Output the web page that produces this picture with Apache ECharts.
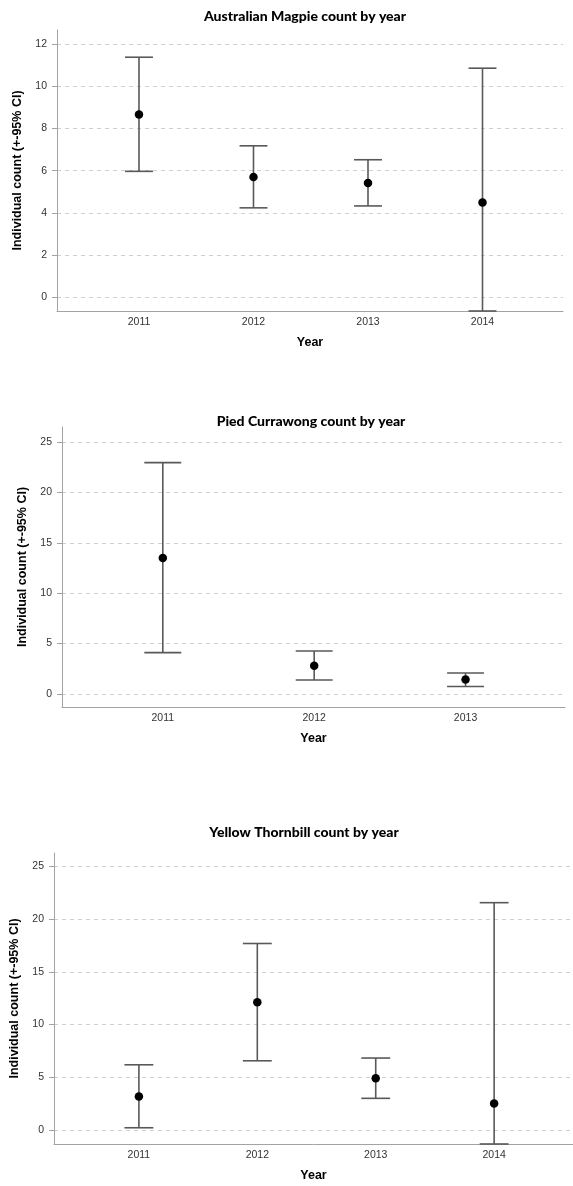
<!DOCTYPE html>
<html><head><meta charset="utf-8">
<script src="https://cdn.jsdelivr.net/npm/echarts@6/dist/echarts.min.js"></script>
<style>html,body{margin:0;padding:0;background:#fff}#c{width:573px;height:1186px}</style>
</head><body><div id="c"></div>
<script>
// ---- data ----
const titles = ['Australian Magpie count by year', 'Pied Currawong count by year', 'Yellow Thornbill count by year'];
const xLabel = 'Year';
const yLabel = 'Individual count (+-95% CI)';

const years1 = [2011, 2012, 2013, 2014];
const mean1  = [8.67, 5.70, 5.42, 4.49];
const lower1 = [5.97, 4.24, 4.33, -0.65];
const upper1 = [11.38, 7.18, 6.52, 10.86];

const years2 = [2011, 2012, 2013];
const mean2  = [13.5, 2.8, 1.42];
const lower2 = [4.1, 1.38, 0.74];
const upper2 = [22.95, 4.26, 2.08];

const years3 = [2011, 2012, 2013, 2014];
const mean3  = [3.18, 12.1, 4.9, 2.5];
const lower3 = [0.21, 6.56, 3.0, -1.33];
const upper3 = [6.18, 17.68, 6.82, 21.55];

const yTicks1 = [0, 2, 4, 6, 8, 10, 12];
const yTicks2 = [0, 5, 10, 15, 20, 25];
const yTicks3 = [0, 5, 10, 15, 20, 25];

// ---- layout ----
const panels = [
  {years: years1, mean: mean1, lower: lower1, upper: upper1, ticks: yTicks1,
   grid: {left: 57, right: 10, top: 30, height: 281}, xMin: 2010.284, xMax: 2014.703, yMin: -0.65, yMax: 12.67,
   titleTop: 4, titleX: 300, yNameGap: 30},
  {years: years2, mean: mean2, lower: lower2, upper: upper2, ticks: yTicks2,
   grid: {left: 62, right: 8, top: 427, height: 280}, xMin: 2010.334, xMax: 2013.657, yMin: -1.3, yMax: 26.49,
   titleTop: 409, titleX: 306, yNameGap: 27},
  {years: years3, mean: mean3, lower: lower3, upper: upper3, ticks: yTicks3,
   grid: {left: 54, right: 0, top: 853, height: 291}, xMin: 2010.283, xMax: 2014.666, yMin: -1.33, yMax: 26.26,
   titleTop: 820, titleX: 299, yNameGap: 28}
];

const axisGray = '#a3a3a3';
const barGray = '#595959';
const tickFont = 'Liberation Sans, Arial, sans-serif';

function errRender(params, api) {
  const x = api.value(0), lo = api.value(1), hi = api.value(2);
  const pLo = api.coord([x, lo]), pHi = api.coord([x, hi]);
  const half = api.size([1, 0])[0] * 0.122;
  const style = {stroke: barGray, lineWidth: 1.6, fill: null};
  return {type: 'group', children: [
    {type: 'line', shape: {x1: pHi[0], y1: pHi[1], x2: pLo[0], y2: pLo[1]}, style: style},
    {type: 'line', shape: {x1: pHi[0] - half, y1: pHi[1], x2: pHi[0] + half, y2: pHi[1]}, style: style},
    {type: 'line', shape: {x1: pLo[0] - half, y1: pLo[1], x2: pLo[0] + half, y2: pLo[1]}, style: style}
  ]};
}

const option = {animation: false, backgroundColor: '#fff', title: [], grid: [], xAxis: [], yAxis: [], series: []};

panels.forEach((p, i) => {
  option.title.push({
    text: titles[i], left: p.titleX, top: p.titleTop, textAlign: 'center',
    textStyle: {fontFamily: 'Lato, sans-serif', fontWeight: 900, fontSize: 14, color: '#000'}
  });
  option.grid.push(Object.assign({containLabel: false}, p.grid));
  option.xAxis.push({
    type: 'value', gridIndex: i, min: p.xMin, max: p.xMax,
    name: xLabel, nameLocation: 'middle', nameGap: 25,
    nameTextStyle: {fontFamily: tickFont, fontWeight: 'bold', fontSize: 12.5, color: '#000'},
    axisLine: {show: true, onZero: false, lineStyle: {color: axisGray, width: 1}},
    axisTick: {show: false},
    splitLine: {show: false},
    axisLabel: {customValues: p.years, formatter: v => String(v), margin: 6,
      fontFamily: tickFont, fontSize: 10.5, color: '#333'}
  });
  option.yAxis.push({
    type: 'value', gridIndex: i, min: p.yMin, max: p.yMax,
    name: yLabel, nameLocation: 'middle', nameGap: p.yNameGap,
    nameTextStyle: {fontFamily: tickFont, fontWeight: 'bold', fontSize: 12.5, color: '#000'},
    axisLine: {show: true, onZero: false, lineStyle: {color: axisGray, width: 1}},
    axisTick: {show: true, customValues: p.ticks, length: 5, lineStyle: {color: axisGray}},
    axisLabel: {customValues: p.ticks, margin: 10, fontFamily: tickFont, fontSize: 10.5, color: '#333'},
    splitLine: {show: true, lineStyle: {color: '#cfcfcf', type: [4, 4], width: 1}}
  });
  option.series.push({
    type: 'custom', xAxisIndex: i, yAxisIndex: i, z: 2,
    renderItem: errRender,
    encode: {x: 0, y: [1, 2]},
    data: p.years.map((y, k) => [y, p.lower[k], p.upper[k]])
  });
  option.series.push({
    type: 'scatter', xAxisIndex: i, yAxisIndex: i, z: 3,
    symbol: 'circle', symbolSize: 8.5,
    itemStyle: {color: '#000', opacity: 1},
    data: p.years.map((y, k) => [y, p.mean[k]])
  });
});

const chart = echarts.init(document.getElementById('c'), null, {renderer: 'canvas'});
chart.setOption(option);
</script>
</body></html>
